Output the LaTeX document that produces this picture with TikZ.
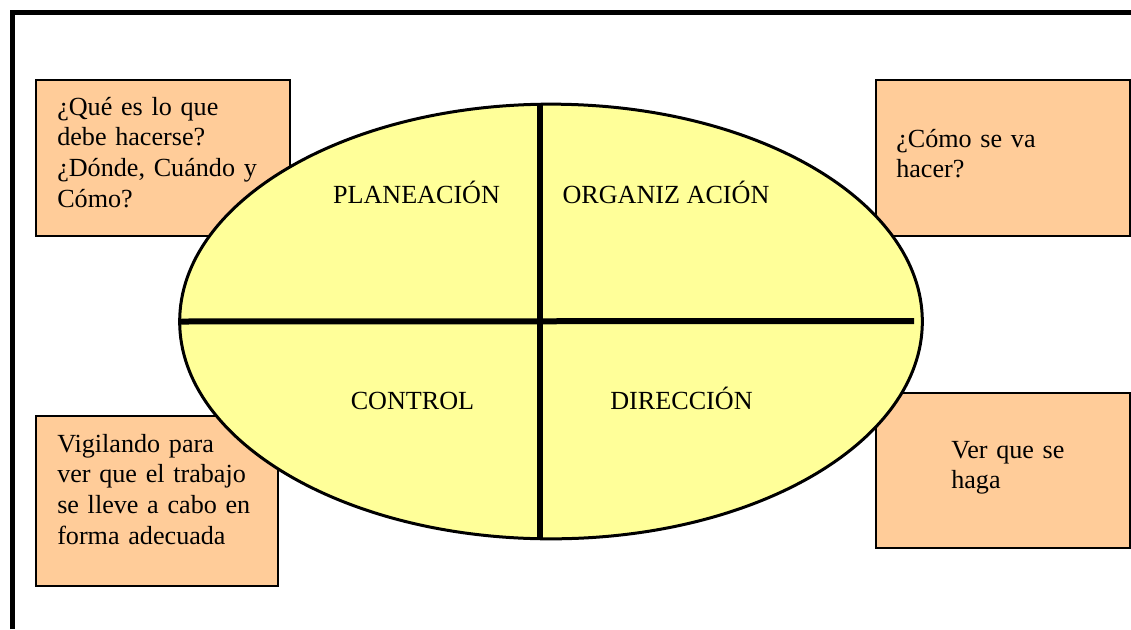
\documentclass[tikz,border=0pt]{standalone}
\usepackage{fontspec}
\setmainfont{Liberation Serif}
\usetikzlibrary{shapes.geometric}
\definecolor{peach}{HTML}{FFCC99}
\definecolor{paleyellow}{HTML}{FFFF99}
\newcommand\notefont{\fontsize{19.6}{23}\selectfont\spaceskip=0.19em\relax}
\tikzset{
  notebox/.style={draw=black,line width=1.5pt,fill=peach,rectangle,inner sep=0pt,minimum height=117pt},
  notetext/.style={anchor=base west,align=left,text width=200pt,inner sep=0pt,font=\notefont},
  quadtext/.style={anchor=base,inner sep=0pt,font=\fontsize{19.6}{23}\selectfont},
  divider/.style={line width=4.5pt}
}
\begin{document}
\begin{tikzpicture}[x=0.75pt,y=-0.75pt]
\useasboundingbox (0,0) rectangle (1131,629);
% marco
\draw[line width=3.75pt] (12,629) -- (12,12.5) -- (1131,12.5);

% cuadros
\node[notebox,minimum width=190.5pt] (qbox) at (163,158) {};
\node[notebox,minimum width=190.5pt] (hbox) at (1003,158) {};
\node[notebox,minimum width=181.5pt,minimum height=127.5pt] (vbox) at (157,501) {};
\node[notebox,minimum width=190.5pt,minimum height=116.25pt] (wbox) at (1003,470.5) {};

\node[notetext] (qtext) at (57,115) {¿Qué es lo que\\debe hacerse?\\¿Dónde, Cuándo y\\Cómo?};
\node[notetext] (htext) at (896,147) {¿Cómo se va\\hacer?};
\node[notetext] (vtext) at (57,452) {Vigilando para\\ver que el trabajo\\se lleve a cabo en\\forma adecuada};
\node[notetext] (wtext) at (951,458) {Ver que se\\haga};

% elipse
\node[ellipse,draw=black,line width=2.25pt,fill=paleyellow,inner sep=0pt,
  minimum width=557pt,minimum height=326pt] (ell) at (551,321.5) {};
\coordinate (vtop) at (540,104);
\coordinate (vbot) at (540,539);
\coordinate (hend) at (914,321);
\draw[divider] (vtop) -- (vbot);
\draw[divider] (ell.west) -- (hend);

\node[quadtext] (plan) at (416.5,203) {PLANEACIÓN};
\node[quadtext] (org) at (666,203) {ORGANIZ ACIÓN};
\node[quadtext] (ctrl) at (412.5,409) {CONTROL};
\node[quadtext] (dir) at (681.5,409) {DIRECCIÓN};
\end{tikzpicture}
\end{document}
